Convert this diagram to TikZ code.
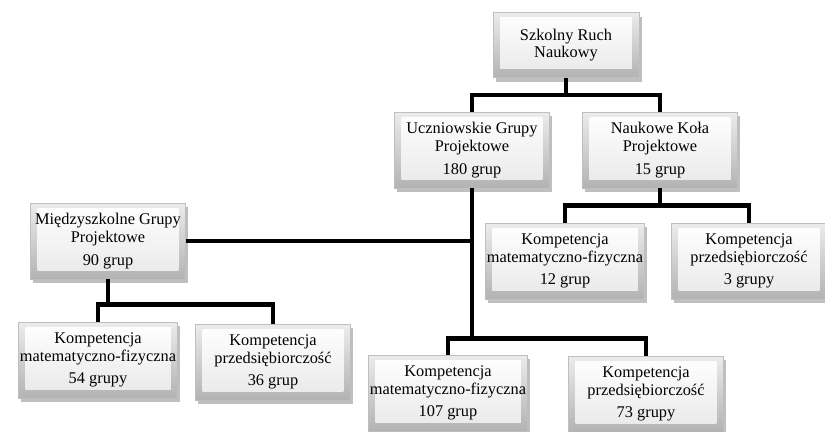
\documentclass[tikz,border=0pt]{standalone}
\usepackage{fontspec}
\setmainfont{Liberation Serif}
\usetikzlibrary{shadows}

\begin{document}
\begin{tikzpicture}[x=0.02cm,y=-0.02cm,
    box/.style={draw=gray!50,minimum width=3.1cm,minimum height=1.52cm,inner sep=1pt,align=center,
        font=\fontsize{9.3}{10}\selectfont,top color=gray!15,bottom color=gray!60,
        drop shadow={shadow xshift=1.5pt,shadow yshift=-2.5pt,opacity=0.5},
        path picture={\shade[top color=white,bottom color=gray!18]
            ([shift={(4pt,-3pt)}]path picture bounding box.north west) rectangle
            ([shift={(-4pt,5pt)}]path picture bounding box.south east);}},
    conn/.style={line width=2.6pt}]
    \useasboundingbox (0,0) rectangle (825,432);

    % top level
    \node[box,minimum width=2.92cm,minimum height=1.3cm] (root) at (566,45) {Szkolny Ruch\\Naukowy};
    \node[box] (ucz) at (472,150) {Uczniowskie Grupy\\Projektowe\\[3pt]180 grup};
    \node[box] (nau) at (660,150) {Naukowe Koła\\Projektowe\\[3pt]15 grup};
    \node[box] (mie) at (108,241) {Międzyszkolne Grupy\\Projektowe\\[3pt]90 grup};

    % kompetencje
    \node[box] (nmf) at (565,261) {Kompetencja\\matematyczno-fizyczna\\[3pt]12 grup};
    \node[box] (npr) at (749,261) {Kompetencja\\przedsiębiorczość\\[3pt]3 grupy};
    \node[box] (mmf) at (98,360) {Kompetencja\\matematyczno-fizyczna\\[3pt]54 grupy};
    \node[box] (mpr) at (273,362) {Kompetencja\\przedsiębiorczość\\[3pt]36 grup};
    \node[box] (umf) at (448,393) {Kompetencja\\matematyczno-fizyczna\\[3pt]107 grup};
    \node[box] (upr) at (646,394) {Kompetencja\\przedsiębiorczość\\[3pt]73 grupy};

    % connectors
    \draw[conn] (ucz.south) |- (mie.east);
    \foreach \a/\b/\d in {root/ucz/17,root/nau/17,ucz/umf/150,ucz/upr/150,
                          nau/nmf/17,nau/npr/17,mie/mmf/25,mie/mpr/25}{
        \draw[conn] (\a.south) -- ++(0,\d) -| (\b.north);
    }
\end{tikzpicture}
\end{document}
